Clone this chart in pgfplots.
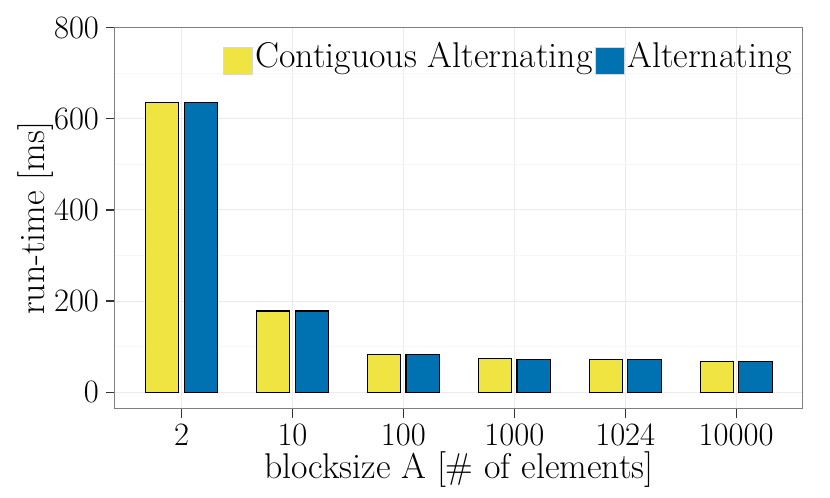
\documentclass[border=0pt]{standalone}
\usepackage{fontspec}
\usepackage{pgfplots}
\pgfplotsset{compat=1.18}
\definecolor{cyellow}{HTML}{F0E442}
\definecolor{cblue}{HTML}{0072B2}
\definecolor{gmaj}{HTML}{EBEBEB}
\definecolor{gmin}{HTML}{F7F7F7}
\definecolor{gborder}{HTML}{7F7F7F}
\definecolor{gtick}{HTML}{333333}
\newcommand{\bigfont}{\fontsize{17.9}{21}\selectfont}
\pgfplotsset{boxlegend/.style={legend image code/.code={\draw[##1, draw=black!15, line width=0.4pt] (0pt,-9pt) rectangle (14.6pt,4.35pt);}}}
\begin{document}
\begin{tikzpicture}[font=\fontsize{16.3}{19.5}\selectfont]
\path[use as bounding box] (-57.5pt,-44.5pt) rectangle (357.5pt,204.5pt);
\begin{axis}[
  scale only axis,
  width=343.85pt, height=190.65pt,
  xmin=0.4, xmax=6.6,
  ymin=-37, ymax=800,
  xtick={1,2,3,4,5,6},
  xticklabels={2,10,100,1000,1024,10000},
  ytick={0,200,400,600,800},
  minor ytick={100,300,500,700},
  minor tick length=0pt,
  major tick length=4.5pt,
  tick align=outside,
  tick pos=left,
  /pgf/number format/assume math mode=true,
  xticklabel style={inner sep=0pt, yshift=-2.6pt},
  xmajorgrids, ymajorgrids, yminorgrids,
  major grid style={gmaj, line width=0.5pt},
  minor grid style={gmin, line width=0.5pt},
  axis line style={gborder, line width=0.5pt},
  every tick/.style={gtick, line width=0.6pt},
  xlabel={blocksize A [\# of elements]},
  ylabel={run-time [ms]},
  every axis x label/.style={at={([yshift=-34.5pt]axis description cs:0.5,0)}, anchor=base, inner sep=0pt, font=\bigfont},
  every axis y label/.style={at={([xshift=-39.5pt]axis description cs:0,0.5)}, rotate=90, anchor=center, inner sep=0pt, font=\bigfont},
  legend style={draw=none, fill=none, legend columns=2,
    at={(axis description cs:0.988,0.969)}, anchor=north east,
    inner sep=0pt, outer sep=0pt, font=\bigfont,
    /tikz/every even column/.append style={column sep=0pt},
    /tikz/every odd column/.append style={column sep=0pt},
    nodes={inner sep=1.2pt}},
  ybar, bar width=16.65pt,
]
\addplot[fill=cyellow, draw=black, line width=0.6pt, bar shift=-9.65pt, boxlegend] coordinates {
  (1,635) (2,178) (3,82) (4,73) (5,72.5) (6,67)};
\addlegendentry{Contiguous Alternating}
\addplot[fill=cblue, draw=black, line width=0.6pt, bar shift=9.65pt, boxlegend] coordinates {
  (1,635) (2,178) (3,82) (4,72.5) (5,72.5) (6,67)};
\addlegendentry{Alternating}
\end{axis}
\end{tikzpicture}
\end{document}
